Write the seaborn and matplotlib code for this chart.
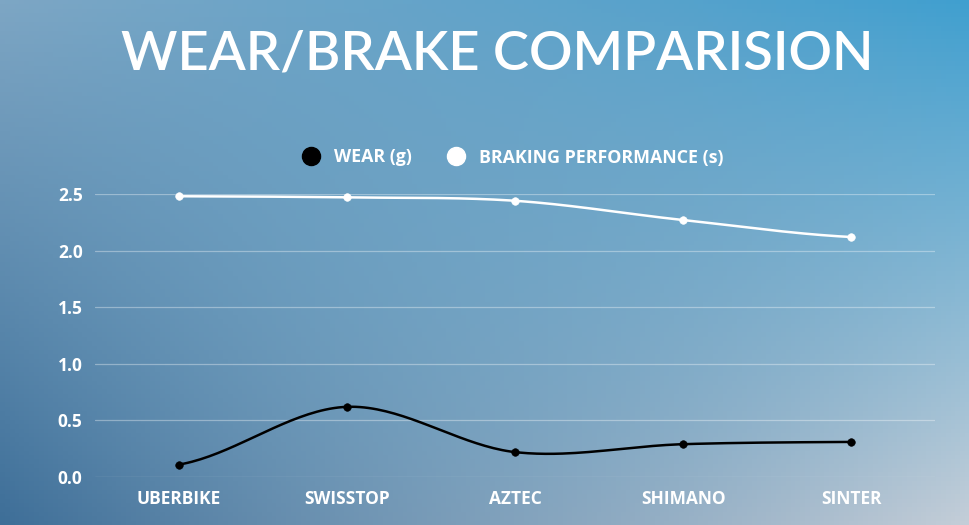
import numpy as np
import pandas as pd
import matplotlib
matplotlib.use('Agg')
import matplotlib.pyplot as plt
import seaborn as sns
from matplotlib.colors import to_rgb
from matplotlib.lines import Line2D

brands = ['UBERBIKE', 'SWISSTOP', 'AZTEC', 'SHIMANO', 'SINTER']
wear = [0.11, 0.62, 0.22, 0.29, 0.31]
braking = [2.48, 2.47, 2.44, 2.27, 2.12]
yticks = [0.0, 0.5, 1.0, 1.5, 2.0, 2.5]

sns.set_theme(style='white')
plt.rcParams['font.family'] = ['Open Sans', 'DejaVu Sans']

df = pd.DataFrame({'brand': brands, 'x': range(len(brands)),
                   'wear': wear, 'braking': braking})


def smooth(xs, ys, n=40):
    # catmull-rom through the points
    xs = np.asarray(xs, float); ys = np.asarray(ys, float)
    px = np.concatenate([[2 * xs[0] - xs[1]], xs, [2 * xs[-1] - xs[-2]]])
    py = np.concatenate([[ys[0]], ys, [ys[-1]]])
    ox, oy = [], []
    for i in range(1, len(px) - 2):
        t = np.linspace(0, 1, n)
        for p, out in ((px, ox), (py, oy)):
            p0, p1, p2, p3 = p[i - 1], p[i], p[i + 1], p[i + 2]
            out.extend(0.5 * (2 * p1 + (-p0 + p2) * t
                              + (2 * p0 - 5 * p1 + 4 * p2 - p3) * t ** 2
                              + (-p0 + 3 * p1 - 3 * p2 + p3) * t ** 3))
    return np.array(ox), np.array(oy)


fig = plt.figure(figsize=(9.7, 5.25), dpi=100)

# gradient background
bg = fig.add_axes([0, 0, 1, 1], zorder=-10)
tl, tr = np.array(to_rgb('#7ea6c4')), np.array(to_rgb('#3d9fd0'))
bl, br = np.array(to_rgb('#3b6b95')), np.array(to_rgb('#c9d0d9'))
u = np.linspace(0, 1, 200)[None, :, None]
v = np.linspace(0, 1, 120)[:, None, None]
img = (1 - v) * ((1 - u) * tl + u * tr) + v * ((1 - u) * bl + u * br)
mid = np.array(to_rgb('#72a8c9'))
w = np.exp(-(((u - 0.5) / 0.45) ** 2 + ((v - 0.5) / 0.6) ** 2))
img = img * (1 - 0.4 * w) + mid * 0.4 * w
bg.imshow(np.clip(img, 0, 1), aspect='auto', extent=[0, 1, 0, 1], origin='upper')
bg.axis('off')

ax = fig.add_axes([0.098, 0.0914, 0.866, 0.5391])
ax.set_facecolor('none')

for col, color in (('wear', 'black'), ('braking', 'white')):
    sx, sy = smooth(df['x'], df[col])
    ax.plot(sx, sy, color=color, lw=1.8, clip_on=False, zorder=3)
    sns.scatterplot(data=df, x='x', y=col, color=color, s=30, edgecolor=color,
                    ax=ax, zorder=4, clip_on=False, legend=False)

ax.set_xlim(-0.5, len(brands) - 0.5)
ax.set_ylim(0, 2.5)
ax.set_yticks(yticks)
ax.set_yticklabels([f'{t:.1f}' for t in yticks])
ax.set_xticks(range(len(brands)))
ax.set_xticklabels(brands)
ax.grid(axis='y', color='white', alpha=0.35, lw=0.9)
ax.grid(axis='x', visible=False)
sns.despine(ax=ax, left=True, bottom=True)
ax.tick_params(length=0, colors='white', labelsize=12.5, pad=9)
for lab in ax.get_xticklabels() + ax.get_yticklabels():
    lab.set_fontweight('bold')
ax.set_xlabel('')
ax.set_ylabel('')

handles = [Line2D([], [], marker='o', ls='', markersize=13, color='black', label='WEAR (g)'),
           Line2D([], [], marker='o', ls='', markersize=13, color='white', label='BRAKING PERFORMANCE (s)')]
leg = fig.legend(handles=handles, loc='center', bbox_to_anchor=(0.524, 0.7), ncol=2,
                 frameon=False, handletextpad=0.3, columnspacing=1.5,
                 prop={'weight': 'bold', 'size': 12.8})
for t in leg.get_texts():
    t.set_color('white')

fig.text(0.513, 0.897, 'WEAR/BRAKE COMPARISION', ha='center', va='center',
         color='white', fontsize=39, fontweight='semibold', family=['Lato', 'DejaVu Sans'])

fig.savefig('out.png', dpi=100)
